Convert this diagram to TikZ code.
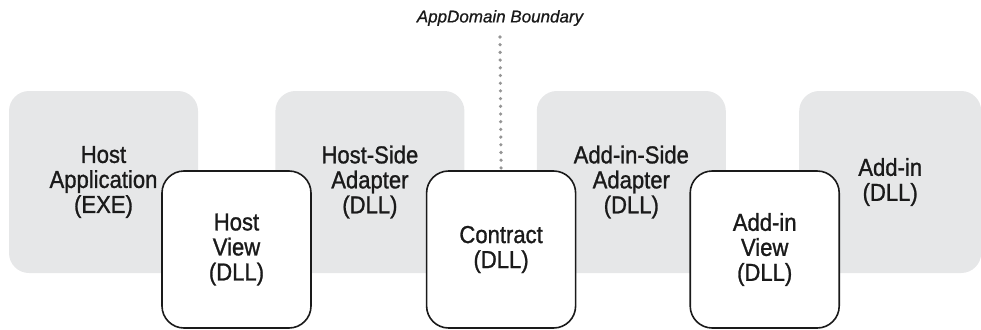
\documentclass[tikz,border=0pt]{standalone}
\usepackage{fontspec}
\setmainfont{Liberation Sans}[FakeStretch=0.9,FakeBold=1.1]
\newfontfamily\boundfont{Liberation Sans}[FakeBold=0.8]
\usepackage{tikz}
\usetikzlibrary{positioning}
\definecolor{pipegrey}{HTML}{E6E7E8}
\definecolor{pipeink}{HTML}{1A1A1A}
\definecolor{pipedots}{HTML}{959595}

\begin{document}
\begin{tikzpicture}[
  x=1pt,y=1pt,
  greybox/.style={draw=none,fill=pipegrey,rounded corners=20pt,
              minimum width=189pt,minimum height=182pt,align=center,
              inner sep=0pt,font=\fontsize{24.5}{25}\selectfont,text=pipeink},
  viewbox/.style={draw=pipeink,line width=1.6pt,fill=white,rounded corners=22pt,
              minimum width=149pt,minimum height=157pt,align=center,
              inner sep=0pt,font=\fontsize{24.5}{25}\selectfont,text=pipeink},
  boundary/.style={pipedots,line width=3.6pt,line cap=round,
              dash pattern=on 0pt off 7.7pt},
  lbl/.style={font=\boundfont\fontsize{17}{19}\itshape,text=pipeink}]

  \useasboundingbox (0,0) rectangle (981,-329);

  % pipeline segments
  \node[greybox] (hostapp) at (103.5,-182) {Host\\Application\\(EXE)};
  \node[greybox,right=77pt of hostapp] (hostadapter) {Host-Side\\Adapter\\(DLL)};
  \node[greybox,right=72pt of hostadapter] (addinadapter) {Add-in-Side\\Adapter\\(DLL)};
  \node[greybox,minimum width=182pt,right=73pt of addinadapter] (addin) {Add-in\\(DLL)};

  % isolation boundary
  \coordinate (boundtop) at (500,-37);
  \node[lbl] (boundlbl) at (500,-18) {AppDomain Boundary};

  % views and contract
  \node[viewbox] (hostview) at (236.5,-249.5) {Host\\View\\(DLL)};
  \node[viewbox,right=114pt of hostview] (contract) {Contract\\(DLL)};
  \node[viewbox,right=113pt of contract] (addinview) {Add-in\\View\\(DLL)};

  \draw[boundary] (boundtop) -- (contract.north);
\end{tikzpicture}
\end{document}
